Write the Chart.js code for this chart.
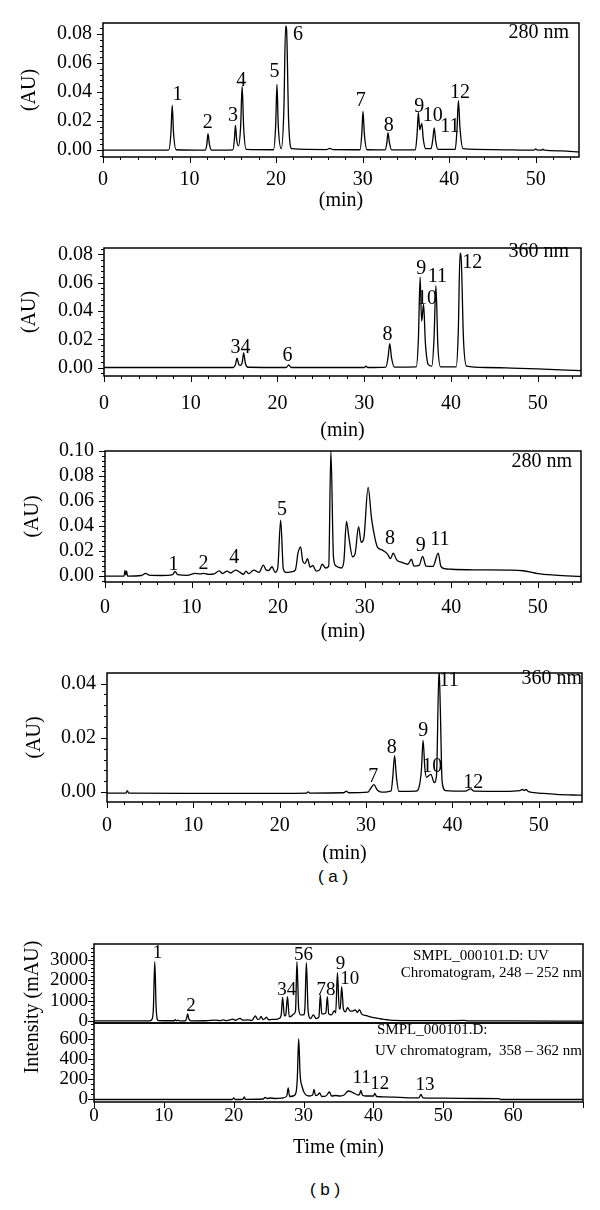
<!DOCTYPE html>
<html>
<head>
<meta charset="utf-8">
<script src="https://cdn.jsdelivr.net/npm/chart.js@4.4.0/dist/chart.umd.min.js"></script>
<style>
  body { margin: 0; background: #fff; width: 600px; height: 1210px; position: relative; overflow: hidden; }
  canvas { position: absolute; left: 0; }
  .cap { position: absolute; width: 80px; text-align: center; font-family: "Liberation Sans", Arial, sans-serif; font-size: 17px; line-height: 20px; color: #000; }
</style>
</head>
<body>
<div class="cap" style="left:293px; top:867px;">(&nbsp;a&nbsp;)</div>
<div class="cap" style="left:285px; top:1180px;">(&nbsp;b&nbsp;)</div>
<script>
// ---------- data: [retention time (min), absorbance] ----------
const timeTicksA = [0, 10, 20, 30, 40, 50];
const timeTicksB = [0, 10, 20, 30, 40, 50, 60];
const auTicks8 = [0, 0.02, 0.04, 0.06, 0.08];
const auTicks10 = [0, 0.02, 0.04, 0.06, 0.08, 0.10];
const auTicks4 = [0, 0.02, 0.04];
const mauTicksTop = [0, 1000, 2000, 3000];
const mauTicksBot = [0, 200, 400, 600];

// standards, 280 nm
const std280 = [[0,0],[6,0],[7.6,0.0002],[7.85,0.012],[8.0,0.031],[8.15,0.012],[8.45,0.0003],
  [11.8,0],[12.0,0.004],[12.13,0.0113],[12.3,0.004],[12.55,0],
  [15.0,0.0002],[15.18,0.007],[15.3,0.017],[15.45,0.007],[15.65,0.003],[15.9,0.016],[16.08,0.044],[16.25,0.016],[16.55,0.0005],
  [19.7,0.0003],[19.95,0.017],[20.1,0.0452],[20.25,0.017],[20.6,0.001],[20.9,0.028],[21.1,0.0855],[21.2,0.084],[21.45,0.02],[21.8,0.001],
  [25.8,0.0004],[26.2,0.0012],[26.6,0.0004],
  [29.7,0.0003],[29.9,0.011],[30.04,0.0267],[30.2,0.011],[30.5,0.0003],
  [32.6,0.0002],[32.8,0.005],[32.93,0.012],[33.1,0.005],[33.35,0.0002],
  [36.1,0.0003],[36.3,0.012],[36.44,0.026],[36.6,0.014],[36.7,0.016],[36.84,0.0185],[37.0,0.008],[37.3,0.001],
  [37.9,0.001],[38.1,0.007],[38.27,0.0154],[38.45,0.006],[38.7,0.0005],
  [40.7,0.0005],[40.9,0.014],[41.07,0.034],[41.25,0.015],[41.6,0.001],
  [45,0.0004],[49.8,0],[50,0.0008],[50.2,0],[50.7,0],[50.8,0.0007],[51,0],[53,-0.0005],[55,-0.0012]];
const std280Peaks = [['1',8.62,0.0384],['2',12.09,0.0192],['3',15.02,0.0237],['4',15.96,0.0481],['5',19.82,0.0538],
  ['6',22.53,0.0791],['7',29.78,0.0339],['8',33.02,0.0169],['9',36.53,0.0298],['10',38.09,0.0237],['11',40.09,0.0163],['12',41.24,0.0395]];

// standards, 360 nm
const std360 = [[0,0],[14.9,0],[15.15,0.002],[15.34,0.0066],[15.55,0.002],[15.75,0.0015],[15.95,0.004],[16.1,0.0103],[16.3,0.003],[16.6,0.0002],
  [21,0],[21.3,0.0018],[21.6,0],[30,0],[30.2,0.0009],[30.4,0],
  [32.5,0.0003],[32.75,0.007],[32.95,0.0169],[33.15,0.007],[33.5,0.0003],
  [36.0,0.0005],[36.25,0.02],[36.45,0.064],[36.62,0.033],[36.7,0.036],[36.85,0.0448],[37.05,0.018],[37.4,0.002],
  [37.8,0.001],[38.05,0.02],[38.27,0.058],[38.5,0.015],[38.8,0.0005],
  [40.6,0.0005],[40.85,0.025],[41.05,0.081],[41.2,0.075],[41.45,0.02],[41.8,0.001],
  [44,0],[47,-0.0004],[50,-0.001],[55,-0.0022]];
const std360Peaks = [['34',15.74,0.0141],['6',21.15,0.0081],['8',32.68,0.0235],['9',36.59,0.0697],['10',37.25,0.0488],['11',38.45,0.0642],['12',42.45,0.0743]];

// sample, 280 nm
const sample280 = [[0,0],[2.2,0],[2.3,0.0045],[2.4,0.001],[2.5,0.004],[2.6,0],[4.2,0.0005],[4.7,0.0022],[5.1,0.0008],[6.5,0.0005],
  [7.8,0.0012],[8.1,0.0037],[8.4,0.0012],[9.5,0.0006],[10.4,0.0022],[11.0,0.0018],[11.4,0.0022],[12.0,0.0014],[12.6,0.0018],
  [13.2,0.0042],[13.6,0.002],[14.1,0.004],[14.5,0.0025],[15.1,0.0048],[15.6,0.003],[16.0,0.0015],[16.3,0.004],[16.6,0.002],
  [17.2,0.0048],[17.8,0.003],[18.3,0.0088],[18.6,0.005],[18.9,0.0045],[19.3,0.0075],[19.65,0.003],[19.95,0.006],[20.3,0.0447],
  [20.6,0.006],[20.9,0.003],[21.6,0.0035],[22.0,0.005],[22.3,0.0183],[22.6,0.0233],[22.85,0.012],[23.1,0.01],[23.4,0.014],
  [23.7,0.007],[24.0,0.0085],[24.4,0.004],[24.8,0.005],[25.1,0.0095],[25.5,0.0065],[25.85,0.008],[26.1,0.1],[26.4,0.015],
  [26.7,0.008],[27.3,0.0065],[27.6,0.012],[27.9,0.0437],[28.2,0.03],[28.6,0.0155],[28.9,0.018],[29.3,0.0395],[29.6,0.027],
  [29.9,0.03],[30.4,0.071],[30.8,0.046],[31.2,0.03],[31.5,0.023],[32.0,0.021],[32.6,0.018],[33.0,0.014],[33.3,0.0184],
  [33.7,0.013],[34.3,0.011],[35.0,0.0095],[35.4,0.0135],[35.7,0.008],[36.3,0.0085],[36.7,0.0158],[37.1,0.008],[37.9,0.0078],
  [38.5,0.0184],[38.8,0.008],[39.2,0.006],[40,0.0055],[43,0.005],[46.5,0.0048],[48.3,0.0043],[50,0.002],[52,0.0008],[55,-0.0003]];
const sample280Peaks = [['1',7.91,0.0087],['2',11.38,0.0095],['4',14.93,0.0147],['5',20.44,0.0534],['8',32.93,0.0297],['9',36.49,0.0245],['11',38.7,0.0292]];

// sample, 360 nm
const sample360 = [[0,-0.0003],[2.2,-0.0003],[2.35,0.0006],[2.5,-0.0003],[10,-0.0004],[20,-0.0004],[23.1,-0.0003],[23.3,0.0001],[23.5,-0.0003],
  [27.4,-0.0002],[27.7,0.0004],[28.0,-0.0002],[30.2,0],[30.5,0.0012],[30.9,0.0028],[31.3,0.0008],[31.8,0],
  [32.9,0.0005],[33.1,0.006],[33.3,0.0135],[33.5,0.006],[33.8,0.0003],[35.8,0.0004],[36.1,0.0015],[36.4,0.008],[36.6,0.0191],
  [36.8,0.009],[37.0,0.0055],[37.5,0.0066],[37.9,0.0035],[38.15,0.006],[38.45,0.0455],[38.6,0.03],[38.8,0.004],[39.2,0.0006],
  [41.5,0.0004],[42.1,0.0012],[42.5,0.0004],[46,0.0003],[47.8,0.0006],[48.1,0.001],[48.3,0.0007],[48.5,0.001],[48.8,0.0002],
  [50,-0.0003],[52,-0.0008],[55,-0.0011]];
const sample360Peaks = [['7',30.84,0.0056],['8',32.98,0.0165],['9',36.63,0.0227],['10',37.66,0.0092],['11',39.6,0.0412],['12',42.42,0.0036]];

// (b) UV chromatogram 248-252 nm, mAU
const uv250 = [[0,0],[7.9,0],[8.3,80],[8.5,600],[8.7,2920],[8.9,600],[9.2,20],[11.5,10],[11.6,60],[11.8,10],[12.0,40],[12.2,5],
  [13.1,10],[13.3,200],[13.4,345],[13.6,80],[13.9,5],[16,10],[17.5,40],[18,15],[18.5,50],[19,20],[19.9,90],[20.2,30],[20.5,70],
  [20.9,130],[21.3,40],[22,50],[22.6,30],[23.1,250],[23.4,80],[23.7,100],[23.9,230],[24.2,70],[24.5,120],[24.7,190],[25.0,60],
  [25.5,80],[26,80],[26.5,120],[26.8,300],[27.0,1160],[27.25,250],[27.45,300],[27.7,1200],[27.95,200],[28.3,250],[28.6,350],
  [28.85,500],[29.05,2920],[29.3,600],[29.6,300],[30.0,300],[30.2,700],[30.4,2870],[30.65,500],[31.0,120],[31.4,300],[31.8,120],
  [32.2,200],[32.4,1280],[32.6,350],[32.9,350],[33.2,420],[33.4,1200],[33.6,350],[34.0,300],[34.4,500],[34.6,400],[34.85,2380],
  [35.1,600],[35.25,600],[35.45,1690],[35.7,600],[36.0,450],[36.3,650],[36.7,480],[37.1,500],[37.4,550],[37.7,420],[38.0,560],
  [38.3,350],[39,260],[40,160],[41,110],[42,60],[43,25],[45,15],[50,15],[53,25],[53.5,5],[60,0],[70,-10]];
const uv250Peaks = [['1',9.1,3330],['2',13.9,740],['34',27.6,1520],['56',30.0,3250],['78',33.2,1520],['9',35.3,2790],['10',36.6,2050]];

// (b) UV chromatogram 358-362 nm, mAU
const uv360 = [[0,-5],[19.8,-5],[20.0,10],[20.2,-5],[21.3,-3],[21.5,20],[21.7,-3],[24.2,0],[24.5,15],[24.8,5],[25.2,10],[26,5],
  [27,10],[27.6,30],[27.8,110],[28.0,25],[28.5,30],[28.9,60],[29.1,200],[29.3,600],[29.5,250],[29.8,120],[30.2,50],[30.8,30],
  [31.3,40],[31.5,95],[31.7,35],[32.0,40],[32.3,60],[32.6,25],[33.2,30],[33.7,70],[34.0,30],[34.6,35],[35.2,30],[35.8,40],
  [36.4,80],[36.9,70],[37.3,55],[37.8,40],[38.0,45],[38.2,85],[38.45,35],[39.0,30],[39.6,30],[40.0,30],[40.2,55],[40.45,25],
  [41.5,22],[43,18],[45,12],[46.5,12],[46.8,45],[47.1,12],[50,8],[55,5],[58,3],[58.2,-5],[70,-5]];
const uv360Peaks = [['11',38.3,210],['12',40.9,153],['13',47.4,143]];

// ---------- layout ----------
const SERIF = '"Liberation Serif", "Times New Roman", serif';
Chart.defaults.font.family = SERIF;
Chart.defaults.color = '#000';

const panels = [
  { top: 0, height: 225, boxTop: 21, boxBottom: 157, left: 103, right: 579, xMax: 55, yMin: -0.0047, yMax: 0.0875,
    xTicks: timeTicksA, yTicks: auTicks8, digits: 2, trace: std280, peaks: std280Peaks,
    fs: 20, tfs: 20, pfs: 20, nfs: 20,
    notes: [{ text: '280 nm', x: 569, y: 33, align: 'right' }],
    tickGap: 20, xTitle: '(min)', xTitleY: 201, yTitle: '(AU)', yTitleX: 30, yPad: 11,
    xMinor: 2, xMajor: 10, yMinor: 0.004, yMajor: 0.02 },
  { top: 225, height: 220, boxTop: 239, boxBottom: 376, left: 104, right: 581, xMax: 55, yMin: -0.006, yMax: 0.0846,
    xTicks: timeTicksA, yTicks: auTicks8, digits: 2, trace: std360, peaks: std360Peaks,
    fs: 20, tfs: 20, pfs: 20, nfs: 20,
    notes: [{ text: '360 nm', x: 569, y: 252, align: 'right' }],
    tickGap: 25, xTitle: '(min)', xTitleY: 431, yTitle: '(AU)', yTitleX: 30, yPad: 11,
    xMinor: 2, xMajor: 10, yMinor: 0.004, yMajor: 0.02 },
  { top: 428, height: 222, boxTop: 448, boxBottom: 582, left: 105, right: 581, xMax: 55, yMin: -0.0047, yMax: 0.10,
    xTicks: timeTicksA, yTicks: auTicks10, digits: 2, trace: sample280, peaks: sample280Peaks,
    fs: 20, tfs: 20, pfs: 20, nfs: 20,
    notes: [{ text: '280 nm', x: 572, y: 462, align: 'right' }],
    tickGap: 23, xTitle: '(min)', xTitleY: 632, yTitle: '(AU)', yTitleX: 33, yPad: 11,
    xMinor: 2, xMajor: 10, yMinor: 0.004, yMajor: 0.02 },
  { top: 650, height: 225, boxTop: 669, boxBottom: 802, left: 107, right: 582, xMax: 55, yMin: -0.0036, yMax: 0.0439,
    xTicks: timeTicksA, yTicks: auTicks4, digits: 2, trace: sample360, peaks: sample360Peaks,
    fs: 20, tfs: 20, pfs: 20, nfs: 20,
    notes: [{ text: '360 nm', x: 582, y: 679, align: 'right' }],
    tickGap: 21, xTitle: '(min)', xTitleY: 854, yTitle: '(AU)', yTitleX: 35, yPad: 11,
    xMinor: 2, xMajor: 10, yMinor: 0.004, yMajor: 0.02 },
  { top: 924, height: 200, boxTop: 944, boxBottom: 1023, left: 94, right: 583, xMax: 70, yMin: -100, yMax: 3790,
    xTicks: timeTicksB, yTicks: mauTicksTop, trace: uv250, peaks: uv250Peaks, hideX: true,
    fs: 19, tfs: 20, pfs: 19, nfs: 15,
    notes: [{ text: 'SMPL_000101.D: UV', x: 413, y: 956, align: 'left' },
            { text: 'Chromatogram, 248 \u2013 252 nm', x: 582, y: 973, align: 'right' }],
    sideTitle: { text: 'Intensity (mAU)', x: 33, y: 1007 }, yPad: 6,
    yMinor: 200, yMajor: 1000 },
  { top: 1003, height: 167, boxTop: 1023, boxBottom: 1102, left: 94, right: 583, xMax: 70, yMin: -30, yMax: 760,
    xTicks: timeTicksB, yTicks: mauTicksBot, trace: uv360, peaks: uv360Peaks,
    fs: 19, tfs: 20, pfs: 19, nfs: 15,
    notes: [{ text: 'SMPL_000101.D:', x: 377, y: 1030, align: 'left' },
            { text: 'UV chromatogram,  358 \u2013 362 nm', x: 582, y: 1051, align: 'right' }],
    tickGap: 12, xTitle: 'Time (min)', xTitleY: 1148, yPad: 6,
    xMinor: 10, xMajor: 10, yMinor: 50, yMajor: 200 }
];

function tickMarks(ctx, scale, a, step, major, horizontal) {
  const k0 = Math.ceil(scale.min / step - 1e-9), k1 = Math.floor(scale.max / step + 1e-9);
  for (let k = k0; k <= k1; k++) {
    const v = k * step;
    const isMajor = Math.abs(v / major - Math.round(v / major)) < 1e-6;
    const len = isMajor ? 6 : 3;
    const px = Math.round(scale.getPixelForValue(v)) + 0.5;
    ctx.beginPath();
    if (horizontal) { ctx.moveTo(px, a.bottom); ctx.lineTo(px, a.bottom + len); }
    else { ctx.moveTo(a.left, px); ctx.lineTo(a.left - len, px); }
    ctx.stroke();
  }
}

function makePanel(p) {
  const cv = document.createElement('canvas');
  cv.width = 600; cv.height = p.height;
  cv.style.top = p.top + 'px';
  document.body.appendChild(cv);

  const areaTop = p.boxTop - p.top;
  const areaBottom = p.boxBottom - p.top;
  const xHeight = p.height - areaBottom;

  const chromPlugin = {
    id: 'chrom',
    beforeDatasetsDraw(chart) {
      const { ctx, scales: { x, y } } = chart;
      ctx.save();
      ctx.fillStyle = '#000';
      ctx.font = p.pfs + 'px ' + SERIF;
      ctx.textAlign = 'center';
      ctx.textBaseline = 'middle';
      for (const [txt, t, v] of p.peaks) {
        ctx.fillText(txt, x.getPixelForValue(t), y.getPixelForValue(v));
      }
      ctx.font = p.nfs + 'px ' + SERIF;
      for (const n of p.notes) {
        ctx.textAlign = n.align;
        ctx.fillText(n.text, n.x, n.y - p.top);
      }
      if (p.sideTitle) {
        ctx.translate(p.sideTitle.x, p.sideTitle.y - p.top);
        ctx.rotate(-Math.PI / 2);
        ctx.textAlign = 'center';
        ctx.font = p.tfs + 'px ' + SERIF;
        ctx.fillText(p.sideTitle.text, 0, 0);
      }
      ctx.restore();
    },
    afterDraw(chart) {
      const { ctx, chartArea: a, scales: { x, y } } = chart;
      ctx.save();
      ctx.strokeStyle = '#000';
      ctx.lineWidth = 1;
      tickMarks(ctx, y, a, p.yMinor, p.yMajor, false);
      if (!p.hideX) tickMarks(ctx, x, a, p.xMinor, p.xMajor, true);
      ctx.lineWidth = 1.5;
      ctx.strokeRect(a.left, a.top, a.right - a.left, a.bottom - a.top);
      ctx.restore();
    }
  };

  const tickFont = { size: p.fs, family: SERIF };
  const titleFont = { size: p.tfs, family: SERIF };
  const lh = p.tfs * 1.2;

  return new Chart(cv.getContext('2d'), {
    type: 'line',
    data: {
      datasets: [{
        data: p.trace.map(([t, v]) => ({ x: t, y: v })),
        borderColor: '#000',
        borderWidth: 1.3,
        pointRadius: 0,
        fill: false,
        cubicInterpolationMode: 'monotone'
      }]
    },
    plugins: [chromPlugin],
    options: {
      responsive: false,
      animation: false,
      events: [],
      layout: { padding: { top: areaTop, right: 600 - p.right, left: 0, bottom: 0 } },
      plugins: { legend: { display: false }, tooltip: { enabled: false } },
      scales: {
        x: {
          type: 'linear',
          display: !p.hideX,
          min: 0, max: p.xMax,
          grid: { display: false, drawTicks: false },
          border: { display: false },
          afterBuildTicks: s => { s.ticks = p.xTicks.map(v => ({ value: v })); },
          afterFit: s => { s.height = xHeight; },
          ticks: { font: tickFont, maxRotation: 0, autoSkip: false, padding: (p.tickGap || 12) - 0.475 * p.fs },
          title: p.xTitle ? {
            display: true, text: p.xTitle, font: titleFont,
            padding: { top: 0, bottom: (p.top + p.height) - p.xTitleY - lh / 2 }
          } : { display: false }
        },
        y: {
          type: 'linear',
          min: p.yMin, max: p.yMax,
          grid: { display: false, drawTicks: false },
          border: { display: false },
          afterBuildTicks: s => { s.ticks = p.yTicks.map(v => ({ value: v })); },
          afterFit: s => { s.width = p.left; },
          ticks: {
            font: tickFont, padding: p.yPad, autoSkip: false,
            callback: v => p.digits ? v.toFixed(p.digits) : String(v)
          },
          title: p.yTitle ? {
            display: true, text: p.yTitle, font: titleFont,
            padding: { top: p.yTitleX - lh / 2, bottom: 0 }
          } : { display: false }
        }
      }
    }
  });
}

panels.forEach(makePanel);
</script>
</body>
</html>
